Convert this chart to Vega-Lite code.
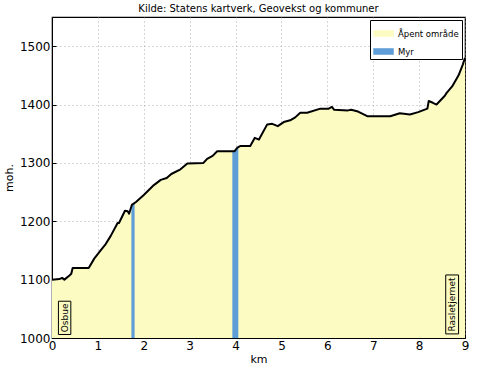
{
  "$schema": "https://vega.github.io/schema/vega-lite/v6.json",
  "width": 413,
  "height": 321,
  "autosize": "none",
  "padding": {"left": 52, "top": 17, "right": 17, "bottom": 30},
  "background": "white",
  "title": {"text": "Kilde: Statens kartverk, Geovekst og kommuner", "font": "DejaVu Sans", "fontSize": 10, "fontWeight": "normal", "color": "black", "offset": 3},
  "config": {
    "font": "DejaVu Sans",
    "view": {"stroke": "black", "strokeWidth": 1.2},
    "axis": {"domainColor": "black", "tickColor": "black", "labelColor": "black", "titleColor": "black", "labelFont": "DejaVu Sans", "labelFontSize": 12, "titleFont": "DejaVu Sans", "titleFontSize": 11, "titleFontWeight": "normal", "gridColor": "#999999", "gridDash": [1, 3], "gridWidth": 0.8, "tickSize": -4, "labelPadding": 6, "labelFlush": false, "labelOverlap": false}
  },
  "datasets": {
    "profile": [
      {"km": 0.0, "elev": 1100}, {"km": 0.16, "elev": 1101}, {"km": 0.22, "elev": 1103}, {"km": 0.27, "elev": 1100},
      {"km": 0.38, "elev": 1107}, {"km": 0.42, "elev": 1110}, {"km": 0.45, "elev": 1120}, {"km": 0.8, "elev": 1120},
      {"km": 0.92, "elev": 1136}, {"km": 1.06, "elev": 1150}, {"km": 1.17, "elev": 1161}, {"km": 1.28, "elev": 1175},
      {"km": 1.43, "elev": 1197}, {"km": 1.46, "elev": 1197}, {"km": 1.59, "elev": 1218}, {"km": 1.65, "elev": 1217},
      {"km": 1.68, "elev": 1213}, {"km": 1.74, "elev": 1228}, {"km": 1.83, "elev": 1233}, {"km": 2.0, "elev": 1245},
      {"km": 2.22, "elev": 1262}, {"km": 2.37, "elev": 1271}, {"km": 2.5, "elev": 1274}, {"km": 2.6, "elev": 1281},
      {"km": 2.8, "elev": 1289}, {"km": 2.95, "elev": 1299}, {"km": 3.3, "elev": 1300}, {"km": 3.38, "elev": 1307},
      {"km": 3.5, "elev": 1312}, {"km": 3.6, "elev": 1320}, {"km": 3.98, "elev": 1320}, {"km": 4.04, "elev": 1326},
      {"km": 4.11, "elev": 1329}, {"km": 4.32, "elev": 1329}, {"km": 4.42, "elev": 1343}, {"km": 4.51, "elev": 1340},
      {"km": 4.69, "elev": 1366}, {"km": 4.8, "elev": 1367}, {"km": 4.92, "elev": 1363}, {"km": 5.05, "elev": 1370},
      {"km": 5.19, "elev": 1373}, {"km": 5.3, "elev": 1378}, {"km": 5.41, "elev": 1386}, {"km": 5.56, "elev": 1386},
      {"km": 5.85, "elev": 1393}, {"km": 6.03, "elev": 1393}, {"km": 6.1, "elev": 1396}, {"km": 6.15, "elev": 1391},
      {"km": 6.45, "elev": 1390}, {"km": 6.52, "elev": 1391}, {"km": 6.67, "elev": 1388}, {"km": 6.87, "elev": 1380},
      {"km": 7.37, "elev": 1380}, {"km": 7.58, "elev": 1385}, {"km": 7.8, "elev": 1383}, {"km": 7.98, "elev": 1387},
      {"km": 8.18, "elev": 1393}, {"km": 8.21, "elev": 1406}, {"km": 8.3, "elev": 1403}, {"km": 8.38, "elev": 1400},
      {"km": 8.56, "elev": 1415}, {"km": 8.6, "elev": 1420}, {"km": 8.72, "elev": 1431}, {"km": 8.86, "elev": 1450},
      {"km": 8.95, "elev": 1468}, {"km": 9.0, "elev": 1480}
    ],
    "myr": [
      {"seg": "a", "km": 1.73, "elev": 1226}, {"seg": "a", "km": 1.8, "elev": 1231},
      {"seg": "b", "km": 3.93, "elev": 1320}, {"seg": "b", "km": 4.06, "elev": 1327}
    ],
    "labels": [
      {"name": "Osbue", "x1": 0.14, "x2": 0.41, "y1": 1006, "y2": 1063, "xc": 0.275, "yc": 1034.5},
      {"name": "Rasletjernet", "x1": 8.58, "x2": 8.86, "y1": 1007, "y2": 1108, "xc": 8.72, "yc": 1057.5}
    ]
  },
  "layer": [
    {
      "data": {"name": "profile"},
      "mark": {"type": "area", "interpolate": "linear"},
      "encoding": {
        "x": {"field": "km", "type": "quantitative", "scale": {"domain": [0, 9], "nice": false}, "axis": {"title": "km", "values": [0,1,2,3,4,5,6,7,8,9], "format": "d", "titlePadding": 2}},
        "y": {"field": "elev", "type": "quantitative", "scale": {"domain": [1000, 1550], "nice": false, "zero": false}, "axis": {"title": "moh.", "values": [1000,1100,1200,1300,1400,1500], "format": "d", "titlePadding": 5}},
        "y2": {"datum": 1000},
        "color": {"datum": "Åpent område", "type": "nominal", "scale": {"domain": ["Åpent område", "Myr"], "range": ["#fbfbc2", "#5f9dd8"]},
          "legend": {"title": null, "orient": "top-right", "offset": 3, "strokeColor": "black", "fillColor": "white", "padding": 3, "labelFont": "DejaVu Sans", "labelFontSize": 8.5, "labelColor": "black", "symbolType": "M-1,-0.32H1V0.32H-1Z", "symbolSize": 420, "symbolStrokeWidth": 0, "symbolOpacity": 1, "rowPadding": 3, "labelOffset": 4}}
      }
    },
    {
      "data": {"name": "myr"},
      "mark": {"type": "area", "interpolate": "linear"},
      "encoding": {
        "x": {"field": "km", "type": "quantitative"},
        "y": {"field": "elev", "type": "quantitative"},
        "y2": {"datum": 1000},
        "detail": {"field": "seg"},
        "color": {"datum": "Myr", "type": "nominal"}
      }
    },
    {
      "data": {"name": "profile"},
      "mark": {"type": "line", "color": "black", "strokeWidth": 2, "strokeJoin": "round"},
      "encoding": {
        "x": {"field": "km", "type": "quantitative"},
        "y": {"field": "elev", "type": "quantitative"}
      }
    },
    {
      "data": {"name": "labels"},
      "mark": {"type": "rect", "fill": "white", "fillOpacity": 0.0, "stroke": "black", "strokeWidth": 1},
      "encoding": {
        "x": {"field": "x1", "type": "quantitative"},
        "x2": {"field": "x2"},
        "y": {"field": "y1", "type": "quantitative"},
        "y2": {"field": "y2"}
      }
    },
    {
      "data": {"name": "labels"},
      "mark": {"type": "text", "angle": 270, "font": "DejaVu Sans", "fontSize": 9, "color": "black", "align": "center", "baseline": "middle"},
      "encoding": {
        "x": {"field": "xc", "type": "quantitative"},
        "y": {"field": "yc", "type": "quantitative"},
        "text": {"field": "name"}
      }
    }
  ]
}
